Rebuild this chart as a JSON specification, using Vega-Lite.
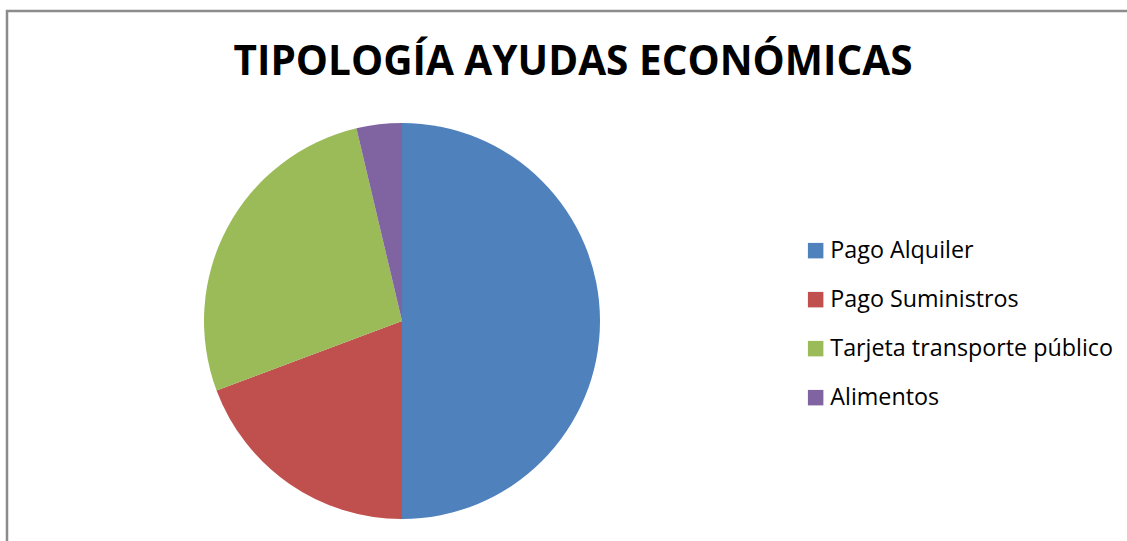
{
  "$schema": "https://vega.github.io/schema/vega-lite/v6.json",
  "width": 1124,
  "height": 534,
  "autosize": {"type": "none"},
  "padding": {"left": 7, "top": 11, "right": -4, "bottom": -4},
  "background": "white",
  "config": {
    "view": {"stroke": null},
    "font": "Open Sans"
  },
  "title": {
    "text": "TIPOLOGÍA AYUDAS ECONÓMICAS",
    "font": "Open Sans",
    "fontSize": 40.5,
    "fontWeight": "bold",
    "color": "#000000",
    "anchor": "middle",
    "orient": "top",
    "frame": "group",
    "baseline": "alphabetic",
    "offset": -106,
    "dx": 4
  },
  "layer": [
    {
      "data": {"values": [{"marco": "borde"}]},
      "mark": {"type": "rect", "fill": null, "stroke": "#8c8c8c", "strokeWidth": 2.5},
      "encoding": {
        "x": {"value": 0},
        "x2": {"value": "width"},
        "y": {"value": 0},
        "y2": {"value": "height"}
      }
    },
    {
      "data": {
        "values": [
          {"tipo": "Pago Alquiler", "valor": 50.0, "orden": 1},
          {"tipo": "Pago Suministros", "valor": 19.3, "orden": 2},
          {"tipo": "Tarjeta transporte público", "valor": 27.0, "orden": 3},
          {"tipo": "Alimentos", "valor": 3.7, "orden": 4}
        ]
      },
      "mark": {"type": "arc", "radius": 198, "x": 395, "y": 310, "stroke": null},
      "encoding": {
        "theta": {"field": "valor", "type": "quantitative", "stack": true},
        "order": {"field": "orden", "type": "quantitative"},
        "color": {
          "field": "tipo",
          "type": "nominal",
          "scale": {
            "domain": ["Pago Alquiler", "Pago Suministros", "Tarjeta transporte público", "Alimentos"],
            "range": ["#4F81BD", "#C0504D", "#9BBB59", "#8064A2"]
          },
          "legend": {
            "title": null,
            "orient": "none",
            "legendX": 797,
            "legendY": 228,
            "padding": 0,
            "symbolType": "square",
            "symbolSize": 240,
            "symbolStrokeWidth": 0,
            "symbolOpacity": 1,
            "labelFontSize": 23.3,
            "labelFont": "Open Sans",
            "labelColor": "#000000",
            "labelOffset": 3,
            "rowPadding": 25,
            "labelLimit": 400
          }
        }
      }
    }
  ]
}
